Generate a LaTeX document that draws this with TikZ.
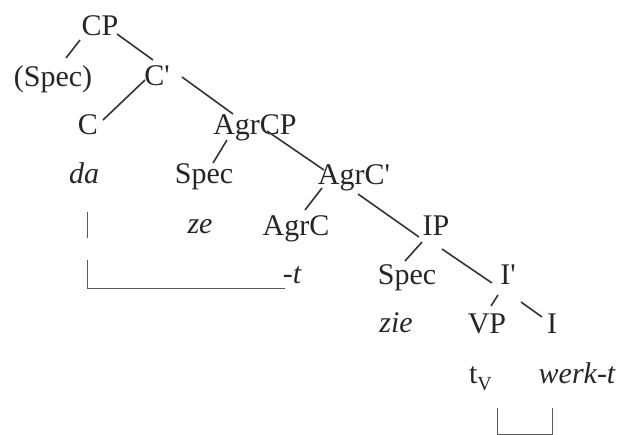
\documentclass[tikz,border=0pt]{standalone}
\usepackage{fontspec}
\setmainfont{Liberation Serif}
\begin{document}
\begin{tikzpicture}[x=1pt,y=-1pt,
  lab/.style={inner sep=0pt,outer sep=0pt,anchor=base,text=black!85,font=\fontsize{30}{36}\selectfont},
  br/.style={draw=black!80,line width=1.6pt},
  mv/.style={draw=black!65,line width=1pt}]
\useasboundingbox (0,0) rectangle (623,434);
\fill[white] (0,0) rectangle (623,434);
% nodes
\node[lab] (CP) at (100,35) {CP};
\node[lab] (spec1) at (53,86) {(Spec)};
\node[lab] (Cb) at (157,85) {C\textquotesingle};
\node[lab] (C) at (88,134) {C};
\node[lab] (AgrCP) at (255,134) {AgrCP};
\node[lab] (da) at (84,183) {\itshape da};
\node[lab] (spec2) at (204,183) {Spec};
\node[lab] (ze) at (200,233) {\itshape ze};
\node[lab] (AgrC) at (296,235) {AgrC};
\node[lab] (mt) at (292,283) {\itshape -t};
\node[lab] (AgrCb) at (354,184) {AgrC\textquotesingle};
\node[lab] (IP) at (436,235) {IP};
\node[lab] (spec3) at (407,284) {Spec};
\node[lab] (Ib) at (508,284) {I\textquotesingle};
\node[lab] (zie) at (396,332) {\itshape zie};
\node[lab] (VP) at (487,333) {VP};
\node[lab] (I) at (552,333) {I};
\node[lab,anchor=base west] (tV) at (469,383) {t{\fontsize{20}{20}\selectfont\raisebox{-7pt}{V}}};
\node[lab] (werkt) at (577,383) {\itshape werk-t};
% tree edges
\draw[br] ([shift={(-20,5)}]CP.base) -- ([shift={(13,-28)}]spec1.base);
\draw[br] ([shift={(17,-1)}]CP.base) -- ([shift={(-4,-25)}]Cb.base);
\draw[br] ([shift={(-12,-5)}]Cb.base) -- ([shift={(15,-14)}]C.base);
\draw[br] ([shift={(25,-8)}]Cb.base) -- ([shift={(-22,-20)}]AgrCP.base);
\draw[br] ([shift={(-28,6)}]AgrCP.base) -- ([shift={(9,-20)}]spec2.base);
\draw[br] ([shift={(12,-3)}]AgrCP.base) -- ([shift={(-30,-14)}]AgrCb.base);
\draw[br] ([shift={(-32,4)}]AgrCb.base) -- ([shift={(9,-25)}]AgrC.base);
\draw[br] ([shift={(4,10)}]AgrCb.base) -- ([shift={(-17,2)}]IP.base);
\draw[br] ([shift={(-14,7)}]IP.base) -- ([shift={(-2,-23)}]spec3.base);
\draw[br] ([shift={(6,14)}]IP.base) -- ([shift={(-16,-1)}]Ib.base);
\draw[br] ([shift={(-10,11)}]Ib.base) -- ([shift={(4,-27)}]VP.base);
\draw[br] ([shift={(13,18)}]Ib.base) -- ([shift={(-10,-16)}]I.base);
% movement lines
\draw[mv] ([shift={(3,29)}]da.base) -- ++(0,26);
\draw[mv] ([shift={(3,77)}]da.base) |- ([shift={(-7,5)}]mt.base);
\draw[mv] ([shift={(28,25)}]tV.base west) -- ++(0,26.6) -| ([shift={(-25,25)}]werkt.base);
\end{tikzpicture}
\end{document}
